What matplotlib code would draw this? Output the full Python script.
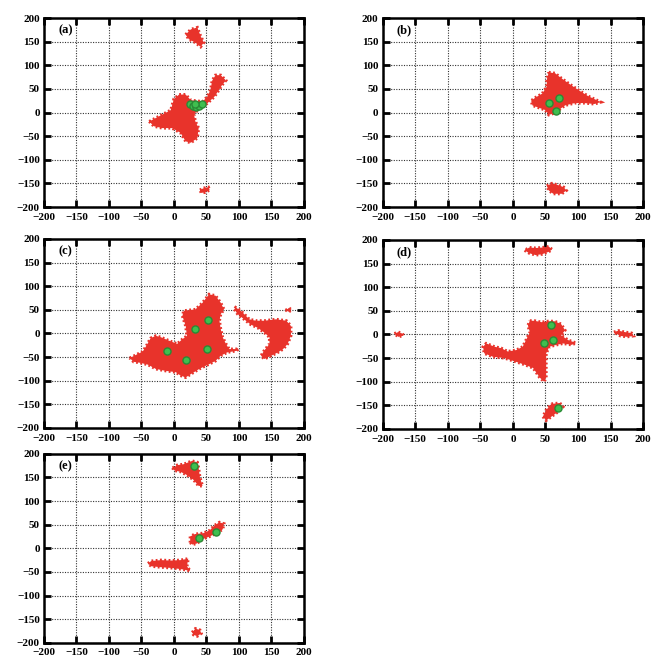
import matplotlib
matplotlib.use("Agg")
import matplotlib.pyplot as plt

plt.rcParams['font.family'] = ['Liberation Serif', 'DejaVu Serif']

RED = '#e8332b'
GREEN = '#3fbf4f'
GREEN_EDGE = '#2a8a35'

ticks = [-200, -150, -100, -50, 0, 50, 100, 150, 200]
panel_labels = ['(a)', '(b)', '(c)', '(d)', '(e)']

# populated (phi, psi) regions, outlined as polygons
regions_a = [
    [(18, 165), (26, 176), (36, 180), (41, 162), (46, 148), (41, 139), (33, 148),
     (23, 155)],
    [(-38, -19), (-23, -8), (-5, 5), (0, 29), (8, 38), (18, 38), (26, 26), (44, 23),
     (51, 33), (56, 47), (59, 68), (64, 79), (72, 79), (80, 68), (74, 58), (69, 47),
     (62, 33), (51, 19), (38, 9), (31, -5), (33, -19), (38, -33), (36, -54), (26, -64),
     (18, -61), (10, -43), (-3, -33), (-18, -33), (-31, -29)],
    [(40, -164), (46, -160), (53, -158), (55, -164), (48, -169), (42, -170)],
]
regions_b = [
    [(55, 85), (65, 83), (72, 75), (85, 62), (100, 48), (115, 35), (135, 22), (125, 18),
     (110, 20), (95, 20), (80, 15), (70, 5), (62, -2), (55, -5), (50, 5), (40, 10),
     (30, 15), (28, 25), (35, 32), (45, 40), (52, 55), (52, 70)],
    [(52, -155), (60, -150), (68, -153), (78, -158), (82, -165), (75, -172), (62, -172),
     (55, -165)],
]
regions_c = [
    [(-68, -52), (-58, -45), (-48, -38), (-42, -25), (-36, -10), (-28, -5), (-20, -8),
     (-8, -15), (5, -22), (13, -12), (20, -5), (18, 16), (13, 37), (15, 48), (33, 51),
     (44, 65), (54, 83), (64, 80), (72, 65), (77, 51), (72, 41), (70, 27), (72, 9),
     (75, -8), (80, -22), (85, -33), (100, -33), (95, -37), (82, -40), (72, -47),
     (64, -58), (54, -65), (39, -75), (26, -86), (18, -93), (10, -89), (3, -82),
     (-13, -79), (-28, -75), (-40, -66), (-52, -62), (-62, -60)],
    [(93, 51), (98, 41), (108, 30), (118, 19), (129, 12), (139, 2), (147, -8),
     (147, -22), (139, -36), (134, -47), (139, -54), (150, -47), (160, -40),
     (168, -33), (175, -22), (180, -5), (180, 16), (173, 27), (157, 30), (139, 27),
     (126, 27), (116, 30), (111, 37), (103, 48), (95, 55)],
    [(172, 49), (177, 54), (181, 50), (177, 46)],
]
regions_d = [
    [(18, 178), (25, 172), (35, 168), (45, 170), (55, 175), (60, 180), (55, 186),
     (45, 184), (35, 183), (25, 184)],
    [(-182, 2), (-176, 5), (-170, 2), (-168, -2), (-176, -5)],
    [(155, 5), (162, 8), (172, 5), (182, 3), (185, -3), (175, -5), (165, -3)],
    [(26, 29), (33, 29), (44, 26), (54, 28), (64, 28), (74, 22), (80, 9), (74, -2),
     (85, -12), (97, -18), (90, -22), (77, -19), (67, -22), (56, -26), (51, -40),
     (51, -67), (51, -91), (48, -100), (41, -91), (31, -71), (18, -64), (3, -57),
     (-13, -50), (-31, -47), (-44, -40), (-46, -26), (-41, -19), (-28, -26),
     (-18, -29), (-8, -36), (5, -33), (15, -26), (20, -12), (26, 5), (23, 19)],
    [(59, -147), (72, -145), (77, -153), (69, -164), (59, -174), (51, -182),
     (46, -174), (51, -160)],
]
regions_e = [
    [(-2, 170), (5, 176), (15, 178), (28, 185), (36, 182), (38, 170), (40, 150),
     (44, 132), (38, 132), (30, 145), (20, 155), (10, 162), (0, 165)],
    [(25, 12), (25, 25), (32, 30), (45, 32), (55, 38), (62, 48), (70, 55), (77, 52),
     (75, 40), (65, 32), (55, 25), (45, 20), (35, 10), (28, 8)],
    [(-40, -32), (-35, -27), (-20, -25), (-5, -26), (10, -25), (22, -22), (20, -38),
     (25, -48), (15, -45), (0, -42), (-20, -40), (-35, -38)],
    [(28, -178), (33, -170), (40, -173), (42, -180), (36, -186), (30, -183)],
]

# cluster centres
centres_a = [(24, 17), (29, 14), (34, 12), (39, 13), (43, 17), (33, 17)]
centres_b = [(56, 20), (70, 30), (66, 4)]
centres_c = [(53, 29), (32, 9), (51, -33), (-10, -37), (19, -56)]
centres_d = [(58, 20), (47, -18), (62, -12), (69, -156)]
centres_e = [(31, 175), (39, 22), (64, 35)]

all_regions = [regions_a, regions_b, regions_c, regions_d, regions_e]
all_centres = [centres_a, centres_b, centres_c, centres_d, centres_e]

# axes boxes [left, bottom, width, height] in figure fractions
boxes = [
    [0.0674, 0.6873, 0.398, 0.2855],
    [0.586, 0.6873, 0.399, 0.2855],
    [0.0674, 0.3535, 0.398, 0.2855],
    [0.586, 0.352, 0.399, 0.2855],
    [0.0674, 0.029, 0.398, 0.2855],
]

fig = plt.figure(figsize=(6.53, 6.62), dpi=100)

for box, label, regions, centres in zip(boxes, panel_labels, all_regions, all_centres):
    ax = fig.add_axes(box)
    ax.set_xlim(-200, 200)
    ax.set_ylim(-200, 200)
    ax.set_xticks(ticks)
    ax.set_yticks(ticks)
    ax.grid(True, color='#333333', linestyle=(0, (1, 1.3)), linewidth=0.8)
    ax.set_axisbelow(True)

    for poly in regions:
        xs = [p[0] for p in poly]
        ys = [p[1] for p in poly]
        # dotted thick edge gives the blobs a ragged outline
        ax.fill(xs, ys, facecolor=RED, edgecolor=RED, linewidth=2.2,
                linestyle=(0, (0.6, 0.8)), zorder=2)

    cx = [c[0] for c in centres]
    cy = [c[1] for c in centres]
    ax.scatter(cx, cy, s=26, color=GREEN, edgecolors=GREEN_EDGE, linewidths=1.0, zorder=3)

    ax.text(-178, 174, label, fontsize=9, fontweight='bold', ha='left', va='center', zorder=4)

    ax.tick_params(direction='in', length=5, width=2, top=True, right=True,
                   labelsize=8)
    ax.tick_params(axis='x', pad=4)
    ax.tick_params(axis='y', pad=3)
    for lab in ax.get_xticklabels() + ax.get_yticklabels():
        lab.set_fontweight('bold')
    for sp in ax.spines.values():
        sp.set_linewidth(1.8)

fig.savefig('out.png', dpi=100)
